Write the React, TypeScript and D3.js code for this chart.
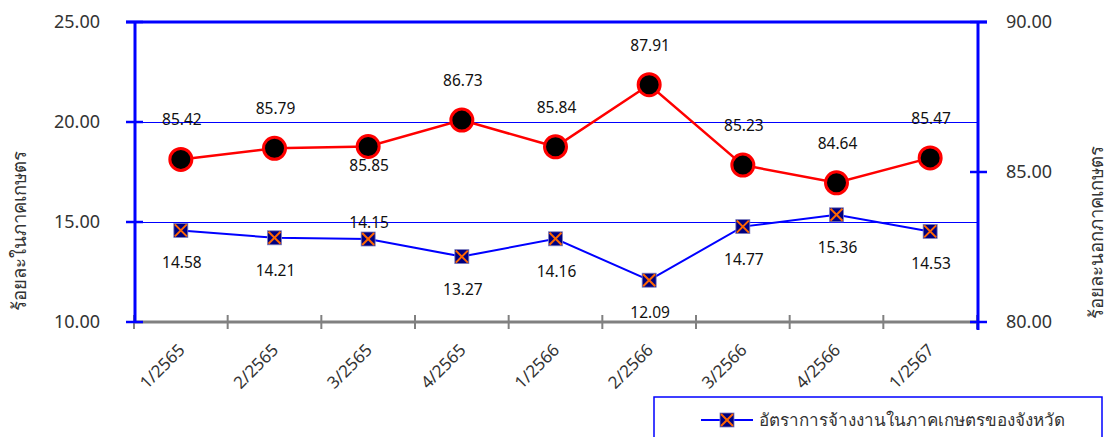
import React from "react";
import * as d3 from "d3";

const categories = ["1/2565", "2/2565", "3/2565", "4/2565", "1/2566", "2/2566", "3/2566", "4/2566", "1/2567"];
const nonAgri = [85.42, 85.79, 85.85, 86.73, 85.84, 87.91, 85.23, 84.64, 85.47];
const agri = [14.58, 14.21, 14.15, 13.27, 14.16, 12.09, 14.77, 15.36, 14.53];
const nonAgriLabelSide = ["up", "up", "down", "up", "up", "up", "up", "up", "up"];
const agriLabelSide = ["down", "down", "up", "down", "down", "down", "down", "down", "down"];
const leftTicks = [10, 15, 20, 25];
const rightTicks = [80, 85, 90];
const leftTitle = "ร้อยละในภาคเกษตร";
const rightTitle = "ร้อยละนอกภาคเกษตร";
const legendLabel = "อัตราการจ้างงานในภาคเกษตรของจังหวัด";

const FONT = "Tahoma, 'Noto Sans', 'DejaVu Sans', sans-serif";

export default function App() {
  const W = 1107, H = 437;
  const L = 134, R = 977, T = 22, B = 322;
  const x = d3.scaleBand<string>().domain(categories).range([L, R]).padding(0);
  const yL = d3.scaleLinear().domain([10, 25]).range([B, T]);
  const yR = d3.scaleLinear().domain([80, 90]).range([B, T]);
  const cx = (c: string) => (x(c) as number) + x.bandwidth() / 2;

  const redLine = d3.line<number>().x((_, i) => cx(categories[i])).y((d) => yR(d))(nonAgri) as string;
  const blueLine = d3.line<number>().x((_, i) => cx(categories[i])).y((d) => yL(d))(agri) as string;

  const boundaries = [...categories.map((c) => x(c) as number), R];

  const sq = 7;
  const BlueMarker = ({ px, py }: { px: number; py: number }) => (
    <g>
      <rect x={px - sq} y={py - sq} width={sq * 2} height={sq * 2} fill="#000080" stroke="#8080c0" strokeWidth={0.8} />
      <line x1={px - sq + 1} y1={py - sq + 1} x2={px + sq - 1} y2={py + sq - 1} stroke="#FF6600" strokeWidth={2} />
      <line x1={px - sq + 1} y1={py + sq - 1} x2={px + sq - 1} y2={py - sq + 1} stroke="#FF6600" strokeWidth={2} />
    </g>
  );

  return (
    <svg width={W} height={H} style={{ position: "absolute", left: 0, top: 0, background: "#fff" }} fontFamily={FONT}>
      {/* gridlines */}
      {[20, 15].map((v) => (
        <line key={v} x1={L} x2={R} y1={Math.round(yL(v)) + 0.5} y2={Math.round(yL(v)) + 0.5} stroke="#0000FF" strokeWidth={1} />
      ))}
      {/* top border */}
      <line x1={L - 8} x2={R + 10} y1={T} y2={T} stroke="#0000FF" strokeWidth={3} />
      {/* bottom category axis */}
      <line x1={L} x2={R} y1={B} y2={B} stroke="#808080" strokeWidth={3} />
      {boundaries.map((bx, i) => (
        <line key={i} x1={bx} x2={bx} y1={B - 7} y2={B + 7} stroke="#808080" strokeWidth={2} />
      ))}
      {/* left axis */}
      <line x1={L + 1} x2={L + 1} y1={T} y2={B} stroke="#0000FF" strokeWidth={3} />
      {leftTicks.map((v) => (
        <g key={v}>
          <line x1={L - 8} x2={L + 9} y1={yL(v)} y2={yL(v)} stroke="#0000FF" strokeWidth={2.5} />
          <text x={100} y={yL(v) + 6} textAnchor="end" fontSize={18} fill="#333">{v.toFixed(2)}</text>
        </g>
      ))}
      {/* right axis */}
      <line x1={R + 1} x2={R + 1} y1={T} y2={B + 8} stroke="#0000FF" strokeWidth={3} />
      {rightTicks.map((v) => (
        <g key={v}>
          <line x1={R - 7} x2={R + 10} y1={yR(v)} y2={yR(v)} stroke="#0000FF" strokeWidth={2.5} />
          <text x={1006} y={yR(v) + 6} textAnchor="start" fontSize={18} fill="#333">{v.toFixed(2)}</text>
        </g>
      ))}
      {/* axis titles */}
      <text transform={`translate(26, 231) rotate(-90)`} textAnchor="middle" fontSize={18.5} fill="#333">{leftTitle}</text>
      <text transform={`translate(1103, 232) rotate(-90)`} textAnchor="middle" fontSize={18.5} fill="#333">{rightTitle}</text>
      {/* category labels */}
      {categories.map((c) => (
        <text key={c} transform={`translate(${cx(c) + 5}, 351) rotate(-45)`} textAnchor="end" fontSize={17} fill="#333">{c}</text>
      ))}
      {/* lines */}
      <path d={blueLine} fill="none" stroke="#0000FF" strokeWidth={2} />
      <path d={redLine} fill="none" stroke="#FF0000" strokeWidth={2.5} />
      {/* markers */}
      {agri.map((v, i) => (
        <BlueMarker key={i} px={cx(categories[i])} py={yL(v)} />
      ))}
      {nonAgri.map((v, i) => (
        <circle key={i} cx={cx(categories[i])} cy={yR(v)} r={11} fill="#000" stroke="#FF0000" strokeWidth={3} />
      ))}
      {/* data labels */}
      {nonAgri.map((v, i) => (
        <text key={i} x={cx(categories[i]) + 1} y={yR(v) + (nonAgriLabelSide[i] === "up" ? -34 : 24)} textAnchor="middle" fontSize={15.5} fill="#111">{v.toFixed(2)}</text>
      ))}
      {agri.map((v, i) => (
        <text key={i} x={cx(categories[i]) + 1} y={yL(v) + (agriLabelSide[i] === "down" ? 38 : -11)} textAnchor="middle" fontSize={15.5} fill="#111">{v.toFixed(2)}</text>
      ))}
      {/* legend */}
      <rect x={654} y={397} width={448} height={60} fill="#fff" stroke="#0000FF" strokeWidth={1.5} />
      <line x1={701} x2={753} y1={420} y2={420} stroke="#0000FF" strokeWidth={2} />
      <BlueMarker px={727} py={420} />
      <text x={759} y={426} fontSize={17} fill="#333">{legendLabel}</text>
    </svg>
  );
}
